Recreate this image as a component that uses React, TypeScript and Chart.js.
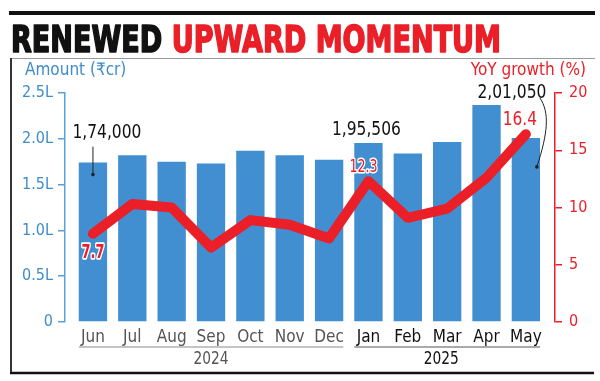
import React, { useEffect, useRef } from 'react';
import { Chart, registerables } from 'chart.js';
Chart.register(...registerables);

const months = ['Jun', 'Jul', 'Aug', 'Sep', 'Oct', 'Nov', 'Dec', 'Jan', 'Feb', 'Mar', 'Apr', 'May'];
const years = ['2024', '2025'];
const yearFirstIdx = [0, 7];
const yearLastIdx = [6, 11];
const amountLakhCr = [1.74, 1.82, 1.75, 1.73, 1.87, 1.82, 1.77, 1.955, 1.84, 1.965, 2.37, 2.01];
const yoyGrowth = [7.7, 10.3, 10.0, 6.5, 8.9, 8.5, 7.3, 12.3, 9.1, 9.9, 12.6, 16.4];
const amountCalloutIdx = [0, 7, 11];
const amountCalloutText = ['1,74,000', '1,95,506', '2,01,050'];
const growthLabelIdx = [0, 7, 11];
const titleBlack = 'RENEWED ';
const titleRed = 'UPWARD MOMENTUM';
const leftAxisTitle = 'Amount (₹cr)';
const rightAxisTitle = 'YoY growth (%)';

const FAM = '"DejaVu Sans Condensed", "DejaVu Sans", sans-serif';
const BLUE = '#418fd0';
const BLUE_TXT = '#3f8ccb';
const RED = '#ea1f27';

function drawText(
  ctx: CanvasRenderingContext2D,
  s: string,
  x: number,
  y: number,
  font: string,
  color: string,
  align: CanvasTextAlign = 'center',
  sx = 1,
  stroke = 0
) {
  ctx.save();
  ctx.font = font;
  ctx.textAlign = align;
  ctx.textBaseline = 'middle';
  ctx.translate(x, y);
  ctx.scale(sx, 1);
  if (stroke > 0) {
    ctx.lineWidth = stroke;
    ctx.strokeStyle = '#ffffff';
    ctx.lineJoin = 'round';
    ctx.strokeText(s, 0, 0);
  }
  ctx.fillStyle = color;
  ctx.fillText(s, 0, 0);
  ctx.restore();
}

const decorPlugin = {
  id: 'decor',
  beforeDraw(chart: any) {
    const ctx: CanvasRenderingContext2D = chart.ctx;
    ctx.save();
    ctx.fillStyle = '#ffffff';
    ctx.fillRect(0, 0, chart.width, chart.height);
    // top bar
    ctx.fillStyle = '#111';
    ctx.fillRect(9, 11, 586, 4);
    // title
    ctx.font = `bold 37px ${FAM}`;
    ctx.textBaseline = 'alphabetic';
    ctx.textAlign = 'left';
    const w1 = ctx.measureText(titleBlack).width;
    const w2 = ctx.measureText(titleRed).width;
    const sx = 490 / (w1 + w2);
    ctx.save();
    ctx.translate(11, 52);
    ctx.scale(sx, 1.03);
    ctx.lineJoin = 'round';
    ctx.lineWidth = 1.6;
    ctx.fillStyle = '#111';
    ctx.strokeStyle = '#111';
    ctx.fillText(titleBlack, 0, 0);
    ctx.strokeText(titleBlack, 0, 0);
    ctx.fillStyle = RED;
    ctx.strokeStyle = RED;
    ctx.fillText(titleRed, w1, 0);
    ctx.strokeText(titleRed, w1, 0);
    ctx.restore();
    // frame
    ctx.strokeStyle = '#999';
    ctx.lineWidth = 1;
    ctx.beginPath();
    ctx.moveTo(10, 58.5);
    ctx.lineTo(595, 58.5);
    ctx.stroke();
    ctx.strokeStyle = '#333';
    ctx.lineWidth = 2;
    ctx.beginPath();
    ctx.moveTo(11, 58);
    ctx.lineTo(11, 373);
    ctx.stroke();
    ctx.strokeStyle = '#111';
    ctx.lineWidth = 2.5;
    ctx.beginPath();
    ctx.moveTo(10, 373);
    ctx.lineTo(594, 373);
    ctx.stroke();
    ctx.restore();
    // axis titles
    drawText(ctx, leftAxisTitle, 25, 71, `17px ${FAM}`, BLUE_TXT, 'left');
    drawText(ctx, rightAxisTitle, 586, 71, `17px ${FAM}`, RED, 'right');
  },
  afterDraw(chart: any) {
    const ctx: CanvasRenderingContext2D = chart.ctx;
    const xs = chart.scales.x;
    const ys = chart.scales.y;
    const y2 = chart.scales.y2;
    const half = 0.36;
    // year group lines and labels
    years.forEach((yr, k) => {
      const a = xs.getPixelForValue(yearFirstIdx[k] - half);
      const b = xs.getPixelForValue(yearLastIdx[k] + half);
      ctx.save();
      ctx.strokeStyle = k === 0 ? '#8a8a8a' : '#555';
      ctx.lineWidth = 1.2;
      ctx.beginPath();
      ctx.moveTo(a, 347);
      ctx.lineTo(b, 347);
      ctx.stroke();
      ctx.restore();
      const cx = k === 0 ? (a + b) / 2 : (a + b) / 2 - 6;
      drawText(ctx, yr, cx, 360, `17px ${FAM}`, k === 0 ? '#555' : '#111', 'center', 0.9);
    });
    // amount callouts
    const cf = `20px ${FAM}`;
    amountCalloutIdx.forEach((i, k) => {
      const px = xs.getPixelForValue(i);
      const top = ys.getPixelForValue(amountLakhCr[i]);
      if (k === 0) {
        drawText(ctx, amountCalloutText[k], px + 14, top - 30, cf, '#111', 'center', 0.86);
        ctx.save();
        ctx.strokeStyle = '#222';
        ctx.lineWidth = 1;
        ctx.beginPath();
        ctx.moveTo(px, top - 16);
        ctx.lineTo(px, top + 12);
        ctx.stroke();
        ctx.fillStyle = '#222';
        ctx.beginPath();
        ctx.arc(px, top + 12, 1.8, 0, Math.PI * 2);
        ctx.fill();
        ctx.restore();
      } else if (k === 1) {
        drawText(ctx, amountCalloutText[k], px - 2, top - 13, cf, '#111', 'center', 0.86);
      } else {
        drawText(ctx, amountCalloutText[k], px - 14, top - 45, cf, '#111', 'center', 0.86);
        ctx.save();
        ctx.strokeStyle = '#222';
        ctx.lineWidth = 1;
        ctx.beginPath();
        ctx.moveTo(px + 14, top - 40);
        ctx.bezierCurveTo(px + 24, top - 25, px + 22, top - 5, px + 11, top + 29);
        ctx.stroke();
        ctx.fillStyle = '#222';
        ctx.beginPath();
        ctx.arc(px + 11, top + 29, 1.8, 0, Math.PI * 2);
        ctx.fill();
        ctx.restore();
      }
    });
    // growth labels
    growthLabelIdx.forEach((i, k) => {
      const px = xs.getPixelForValue(i);
      const py = y2.getPixelForValue(yoyGrowth[i]);
      const s = yoyGrowth[i].toFixed(1);
      if (k === 0) drawText(ctx, s, px, py + 19, `bold 20px ${FAM}`, RED, 'center', 0.72, 3.5);
      else if (k === 1) drawText(ctx, s, px - 5, py - 14, `18px ${FAM}`, RED, 'center', 0.78, 3);
      else drawText(ctx, s, px - 6, py - 14, `19px ${FAM}`, RED, 'center', 0.9, 3);
    });
  },
};

export default function App() {
  const ref = useRef<HTMLCanvasElement | null>(null);
  useEffect(() => {
    if (!ref.current) return;
    const chart = new Chart(ref.current, {
      type: 'bar',
      data: {
        datasets: [
          {
            type: 'line',
            label: 'YoY growth (%)',
            data: months.map((_, i) => ({ x: i, y: yoyGrowth[i] })),
            yAxisID: 'y2',
            xAxisID: 'x',
            borderColor: RED,
            borderWidth: 10,
            borderJoinStyle: 'round',
            borderCapStyle: 'round',
            pointRadius: 0,
            tension: 0,
            order: 0,
          } as any,
          {
            type: 'bar',
            label: 'Amount',
            data: months.map((_, i) => ({ x: i, y: amountLakhCr[i] })),
            yAxisID: 'y',
            xAxisID: 'x',
            backgroundColor: BLUE,
            borderWidth: 0,
            barPercentage: 0.9,
            categoryPercentage: 0.8,
            order: 1,
          } as any,
        ],
      },
      options: {
        responsive: false,
        animation: false,
        devicePixelRatio: 1,
        layout: { padding: { top: 93, left: 8, right: 0, bottom: 0 } },
        plugins: { legend: { display: false }, tooltip: { enabled: false }, title: { display: false } },
        scales: {
          x: {
            type: 'linear',
            offset: false,
            min: -0.71,
            max: 11.74,
            grid: { display: false, drawTicks: false, offset: false },
            border: { display: false },
            afterBuildTicks: (s: any) => {
              s.ticks = months.map((_, i) => ({ value: i }));
            },
            afterFit: (s: any) => {
              s.height = 59;
            },
            ticks: {
              autoSkip: false,
              maxRotation: 0,
              padding: 5,
              font: { family: FAM, size: 17 },
              color: (c: any) => (c.index < 7 ? '#555' : '#111'),
              callback: (v: any) => months[v as number] ?? '',
            },
          },
          y: {
            type: 'linear',
            position: 'left',
            min: 0,
            max: 2.5,
            afterFit: (s: any) => {
              s.width = 57;
            },
            grid: { drawOnChartArea: false, tickLength: 7, color: '#5a9fd6', lineWidth: 1.5 },
            border: { color: '#5a9fd6', width: 1.5 },
            ticks: {
              stepSize: 0.5,
              padding: 5,
              color: BLUE_TXT,
              font: { family: FAM, size: 16 },
              callback: (v: any) => (v === 0 ? '0' : Number(v).toFixed(1) + 'L'),
            },
          },
          y2: {
            type: 'linear',
            position: 'right',
            min: 0,
            max: 20,
            afterFit: (s: any) => {
              s.width = 45;
            },
            grid: { drawOnChartArea: false, tickLength: 7, color: RED, lineWidth: 1.5 },
            border: { color: RED, width: 1.5 },
            ticks: {
              stepSize: 5,
              padding: 7,
              color: RED,
              font: { family: FAM, size: 16 },
            },
          },
        },
      } as any,
      plugins: [decorPlugin],
    });
    return () => chart.destroy();
  }, []);
  return (
    <div style={{ position: 'absolute', left: 0, top: 0, width: 600, height: 381, background: '#fff' }}>
      <canvas ref={ref} width={600} height={381} style={{ width: 600, height: 381, display: 'block' }} />
    </div>
  );
}
